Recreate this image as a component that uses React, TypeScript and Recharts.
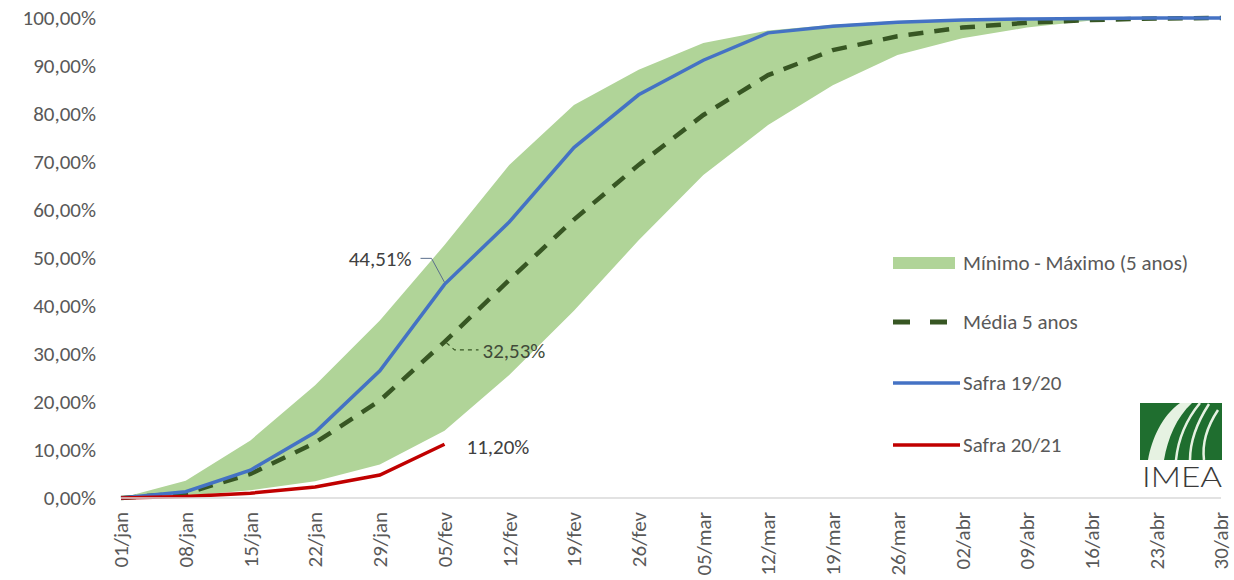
import { Area, ComposedChart, LabelList, Line, XAxis, YAxis } from 'recharts'

const categories = [
  '01/jan', '08/jan', '15/jan', '22/jan', '29/jan', '05/fev', '12/fev', '19/fev', '26/fev',
  '05/mar', '12/mar', '19/mar', '26/mar', '02/abr', '09/abr', '16/abr', '23/abr', '30/abr',
]
const minimo = [0, 0.4, 1.6, 3.5, 7.0, 14.0, 25.6, 39.0, 53.7, 67.3, 77.7, 86.0, 92.3, 95.8, 98.0, 99.5, 100, 100]
const maximo = [0, 3.6, 12.0, 23.5, 37.0, 52.7, 69.4, 81.9, 89.2, 94.8, 97.4, 98.6, 99.4, 99.8, 100, 100, 100, 100]
const media5 = [0, 1.0, 5.0, 11.5, 20.3, 32.53, 45.4, 58.0, 69.4, 79.8, 88.1, 93.3, 96.2, 98.0, 99.0, 99.6, 99.9, 100]
const safra1920 = [0, 1.3, 5.8, 13.7, 26.5, 44.51, 57.5, 73.0, 84.0, 91.2, 96.9, 98.3, 99.1, 99.6, 99.8, 99.9, 100, 100]
const safra2021 = [0, 0.3, 1.0, 2.3, 4.8, 11.2]
const yTicks = [0, 10, 20, 30, 40, 50, 60, 70, 80, 90, 100]

const data = categories.map((cat, i) => ({
  cat,
  band: [minimo[i], maximo[i]],
  media: media5[i],
  s1920: safra1920[i],
  s2021: i < safra2021.length ? safra2021[i] : null,
}))

const FONT = 'Carlito, Calibri, Lato, sans-serif'
const FS = 21
const TEXT = '#595959'
const BAND = '#b0d498'
const DARK_GREEN = '#375623'
const BLUE = '#4472c4'
const RED = '#c00000'

const pct = (v: number) => v.toFixed(2).replace('.', ',') + '%'

function XTick({ x, y, payload }: any) {
  return (
    <g transform={`translate(${x},${y + 14})`}>
      <text transform="rotate(-90)" textAnchor="end" dy="0.35em" fill={TEXT} fontSize={FS} fontFamily={FONT}>
        {payload.value}
      </text>
    </g>
  )
}

// data labels only at the last point of the current season (05/fev)
function BlueLabel({ x, y, index }: any) {
  if (index !== 5) return null
  return (
    <g>
      <polyline points={`${x - 24},${y - 26} ${x - 13},${y - 26} ${x},${y - 2}`} fill="none" stroke="#5a6e8c" strokeWidth={1} />
      <text x={x - 33} y={y - 26} dy="0.35em" textAnchor="end" fill="#404040" fontSize={FS} fontFamily={FONT}>
        {pct(safra1920[5])}
      </text>
    </g>
  )
}

function MediaLabel({ x, y, index }: any) {
  if (index !== 5) return null
  return (
    <g>
      <polyline points={`${x + 2},${y + 1} ${x + 10},${y + 8} ${x + 34},${y + 8}`} fill="none" stroke={DARK_GREEN} strokeWidth={1.2} strokeDasharray="4 4" />
      <text x={x + 38} y={y + 9} dy="0.35em" textAnchor="start" fill="#404a38" fontSize={FS} fontFamily={FONT}>
        {pct(media5[5])}
      </text>
    </g>
  )
}

function RedLabel({ x, y, index }: any) {
  if (index !== 5) return null
  return (
    <text x={x + 22} y={y + 2} dy="0.35em" textAnchor="start" fill="#404040" fontSize={FS} fontFamily={FONT}>
      {pct(safra2021[5])}
    </text>
  )
}

function LegendBox() {
  const rows = [
    { label: 'Mínimo - Máximo (5 anos)', y: 23 },
    { label: 'Média 5 anos', y: 82 },
    { label: 'Safra 19/20', y: 143 },
    { label: 'Safra 20/21', y: 205 },
  ]
  return (
    <svg width={340} height={230} style={{ position: 'absolute', left: 890, top: 240 }}>
      <rect x={3} y={rows[0].y - 6} width={62} height={12} fill={BAND} />
      <line x1={3} x2={66} y1={rows[1].y} y2={rows[1].y} stroke={DARK_GREEN} strokeWidth={5} strokeDasharray="17 20" />
      <line x1={3} x2={70} y1={rows[2].y} y2={rows[2].y} stroke={BLUE} strokeWidth={3.5} />
      <line x1={3} x2={70} y1={rows[3].y} y2={rows[3].y} stroke={RED} strokeWidth={3.5} />
      {rows.map((r) => (
        <text key={r.label} x={73} y={r.y} dy="0.35em" fill={TEXT} fontSize={FS} fontFamily={FONT}>
          {r.label}
        </text>
      ))}
    </svg>
  )
}

function Logo() {
  const road = '#e6f2e2'
  return (
    <svg width={84} height={90} style={{ position: 'absolute', left: 1140, top: 402 }}>
      <rect x={0} y={1} width={82} height={57} fill="#1f6e2f" />
      <path d="M8 58 C12 36 22 14 40 1 L52 1 C36 16 28 36 24 58 Z" fill={road} />
      <path d="M36 58 C38 38 46 18 60 1" fill="none" stroke={road} strokeWidth={2.5} />
      <path d="M50 58 C50 40 56 22 69 2" fill="none" stroke={road} strokeWidth={2.5} />
      <path d="M64 58 C62 42 66 26 78 8" fill="none" stroke={road} strokeWidth={2.5} />
      <text x={42} y={85} textAnchor="middle" fill="#3a3a3a" fontSize={28} fontFamily="Lato, sans-serif" fontWeight={300} textLength={80} lengthAdjust="spacingAndGlyphs">
        IMEA
      </text>
    </svg>
  )
}

export default function App() {
  return (
    <div style={{ position: 'absolute', left: 0, top: 0, width: 1234, height: 580, background: '#fff' }}>
      <ComposedChart width={1234} height={580} data={data} margin={{ top: 18, right: 13, bottom: 0, left: 0 }}>
        <XAxis
          dataKey="cat"
          interval={0}
          height={82}
          tickSize={0}
          tickMargin={0}
          tick={<XTick />}
          axisLine={{ stroke: '#d9d9d9', strokeWidth: 1.5 }}
          tickLine={false}
        />
        <YAxis
          width={121}
          domain={[0, 100]}
          ticks={yTicks}
          tickFormatter={pct}
          tickSize={0}
          tickMargin={25}
          axisLine={false}
          tickLine={false}
          tick={{ fill: TEXT, fontSize: FS, fontFamily: FONT }}
        />
        <Area dataKey="band" type="linear" stroke="none" fill={BAND} fillOpacity={1} isAnimationActive={false} />
        <Line dataKey="media" type="linear" stroke={DARK_GREEN} strokeWidth={4.5} strokeDasharray="15 11" dot={false} isAnimationActive={false}>
          <LabelList dataKey="media" content={<MediaLabel />} />
        </Line>
        <Line dataKey="s1920" type="linear" stroke={BLUE} strokeWidth={3.5} dot={false} isAnimationActive={false}>
          <LabelList dataKey="s1920" content={<BlueLabel />} />
        </Line>
        <Line dataKey="s2021" type="linear" stroke={RED} strokeWidth={3.5} dot={false} isAnimationActive={false}>
          <LabelList dataKey="s2021" content={<RedLabel />} />
        </Line>
      </ComposedChart>
      <LegendBox />
      <Logo />
    </div>
  )
}
